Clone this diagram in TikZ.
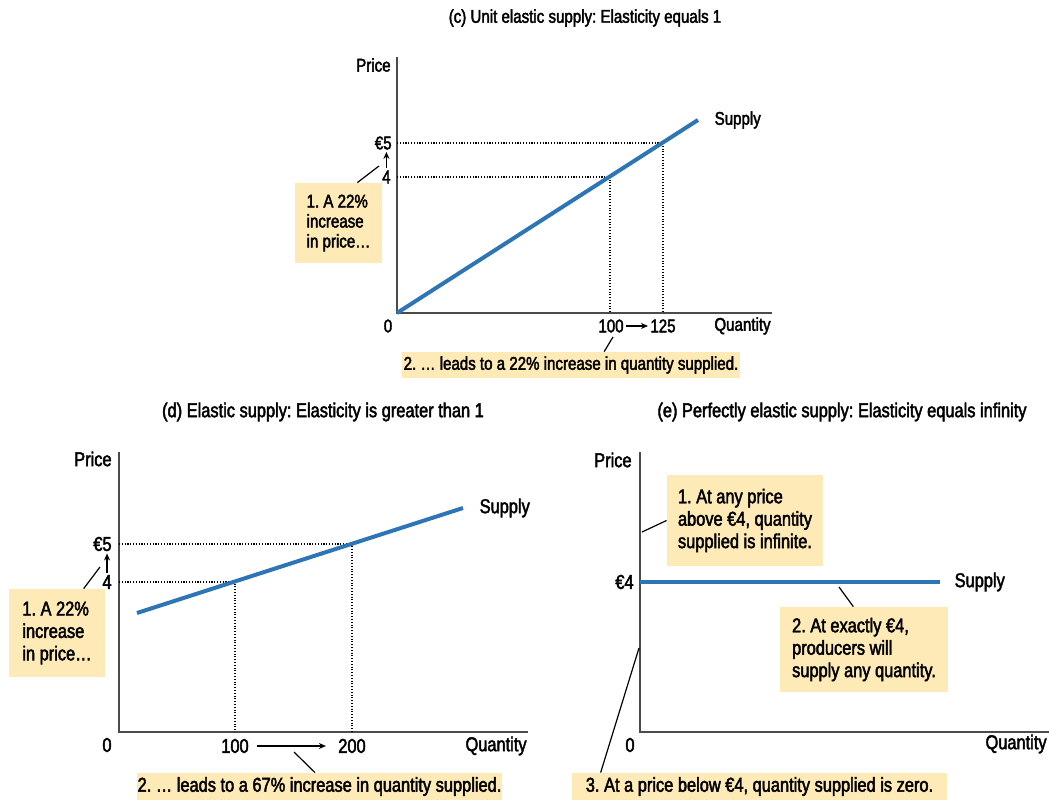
\documentclass[tikz,border=0pt]{standalone}
\usepackage{fontspec}
\setmainfont{Liberation Sans}[FakeStretch=0.82, FakeBold=2.2]
\usetikzlibrary{arrows.meta, positioning}

\definecolor{supblue}{RGB}{46,117,182}
\definecolor{notefill}{RGB}{253,234,183}
\definecolor{axisgray}{RGB}{75,75,75}

\begin{document}
\frenchspacing
\begin{tikzpicture}[x=0.5pt, y=-0.5pt,
    small/.style={font=\fontsize{9.2}{10}\selectfont},
    large/.style={font=\fontsize{10}{11.2}\selectfont},
    axis/.style={axisgray, line width=1pt},
    supply/.style={supblue, line width=2pt},
    guide/.style={line width=0.55pt, dash pattern=on 0.55pt off 0.85pt},
    note/.style={fill=notefill, inner xsep=0pt, inner ysep=0pt, align=left},
    leader/.style={line width=0.6pt},
    lab/.style={inner sep=1pt},
    risearrow/.style={-{Stealth[length=3.5pt, width=3pt]}, line width=0.6pt}]

        % fixing the margins of the page
        \useasboundingbox (0,0) rectangle (1049,801);

        %%% (c) unit elastic supply
        \begin{scope}[small]
        \node (c-title) at (585,18) {(c) Unit elastic supply: Elasticity equals 1};
        \coordinate (c-o) at (397,313);
        \draw[axis] (397,57) -- (c-o) -- (772,313);
        \node[lab, anchor=east] (c-price) at (393,65) {Price};
        \node[lab] (c-zero) at (388,326) {0};
        \node[lab, anchor=east] (c-qty) at (773,326) {Quantity};

        \coordinate (c-a) at (610,177);
        \coordinate (c-b) at (663,143);
        \draw[guide] (c-a -| c-o) -- (c-a) -- (c-a |- c-o);
        \draw[guide] (c-b -| c-o) -- (c-b) -- (c-b |- c-o);
        \draw[supply] (c-o) -- (698,120) node[right=4pt, black] (c-sup) {Supply};

        \node[lab, anchor=east] (c-p5) at (394,143) {€5};
        \node[lab, anchor=east] (c-p4) at (393,177) {4};
        \draw[risearrow] (c-p4.north) -- (c-p4.north |- c-p5.south);
        \node[lab] (c-q1) at (611,326) {100};
        \node[lab] (c-q2) at (663,326) {125};
        \draw[risearrow] (c-q1) -- (c-q2);

        \node[note, minimum width=43.5pt, minimum height=40pt] (c-note1) at (338.5,223)
            {1. A 22\%\\increase\\in price\dots};
        \node[note, minimum width=169pt, minimum height=13pt] (c-note2) at (571,365)
            {2. \dots\ leads to a 22\% increase in quantity supplied.};
        \draw[leader] (c-note1.65) -- (379,166);
        \draw[leader] (c-note2.22) -- (613,337);
        \end{scope}

        %%% (d) elastic supply
        \begin{scope}[large]
        \node (d-title) at (323,412) {(d) Elastic supply: Elasticity is greater than 1};
        \coordinate (d-o) at (119,732);
        \draw[axis] (119,452) -- (d-o) -- (528,732);
        \node[lab, anchor=east] (d-price) at (114,459) {Price};
        \node[lab] (d-zero) at (107,745) {0};
        \node[lab, anchor=east] (d-qty) at (529,746) {Quantity};

        \coordinate (d-a) at (235,582);
        \coordinate (d-b) at (352,544);
        \draw[guide] (d-a -| d-o) -- (d-a) -- (d-a |- d-o);
        \draw[guide] (d-b -| d-o) -- (d-b) -- (d-b |- d-o);
        \draw[supply] (137,613) -- (463,508) node[right=4pt, black] (d-sup) {Supply};

        \node[lab, anchor=east] (d-p5) at (114,544) {€5};
        \node[lab, anchor=east] (d-p4) at (114,582) {4};
        \draw[risearrow] (d-p4.north) -- (d-p4.north |- d-p5.south);
        \node[lab] (d-q1) at (235,746) {100};
        \node[lab] (d-q2) at (352,746) {200};
        \draw[risearrow] ([xshift=3pt]d-q1.east) -- ([xshift=-5pt]d-q2.west);

        \node[note, minimum width=48pt, minimum height=44pt] (d-note1) at (57,633)
            {1. A 22\%\\increase\\in price\dots};
        \node[note, minimum width=182.5pt, minimum height=13.5pt] (d-note2) at (319.5,786.5)
            {2. \dots\ leads to a 67\% increase in quantity supplied.};
        \draw[leader] (d-note1.59) -- (100,567);
        \draw[leader] (d-note2.108) -- (294,752);
        \end{scope}

        %%% (e) perfectly elastic supply
        \begin{scope}[large]
        \node (e-title) at (842,412) {(e) Perfectly elastic supply: Elasticity equals infinity};
        \coordinate (e-o) at (640,732);
        \draw[axis] (640,452) -- (e-o) -- (1049,732);
        \node[lab, anchor=east] (e-price) at (634,460) {Price};
        \node[lab] (e-zero) at (630,745) {0};
        \node[lab, anchor=east] (e-qty) at (1049,744) {Quantity};

        \node[lab, anchor=east] (e-p4) at (636,582) {€4};
        \draw[supply] (640,582) -- (940,582) node[right=3pt, black] (e-sup) {Supply};

        \node[note, minimum width=78pt, minimum height=45.5pt] (e-note1) at (745,520.5)
            {1. At any price\\above €4, quantity\\supplied is infinite.};
        \node[note, minimum width=84pt, minimum height=42.5pt] (e-note2) at (864,649.5)
            {2. At exactly €4,\\producers will\\supply any quantity.};
        \node[note, minimum width=187.5pt, minimum height=13.5pt] (e-note3) at (759.5,786.5)
            {3. At a price below €4, quantity supplied is zero.};
        \draw[leader] (e-note1.west) -- (642,532);
        \draw[leader] (e-note2.104) -- (839,587);
        \draw[leader] (e-note3.175) -- (639,648);
        \end{scope}

\end{tikzpicture}
\end{document}
